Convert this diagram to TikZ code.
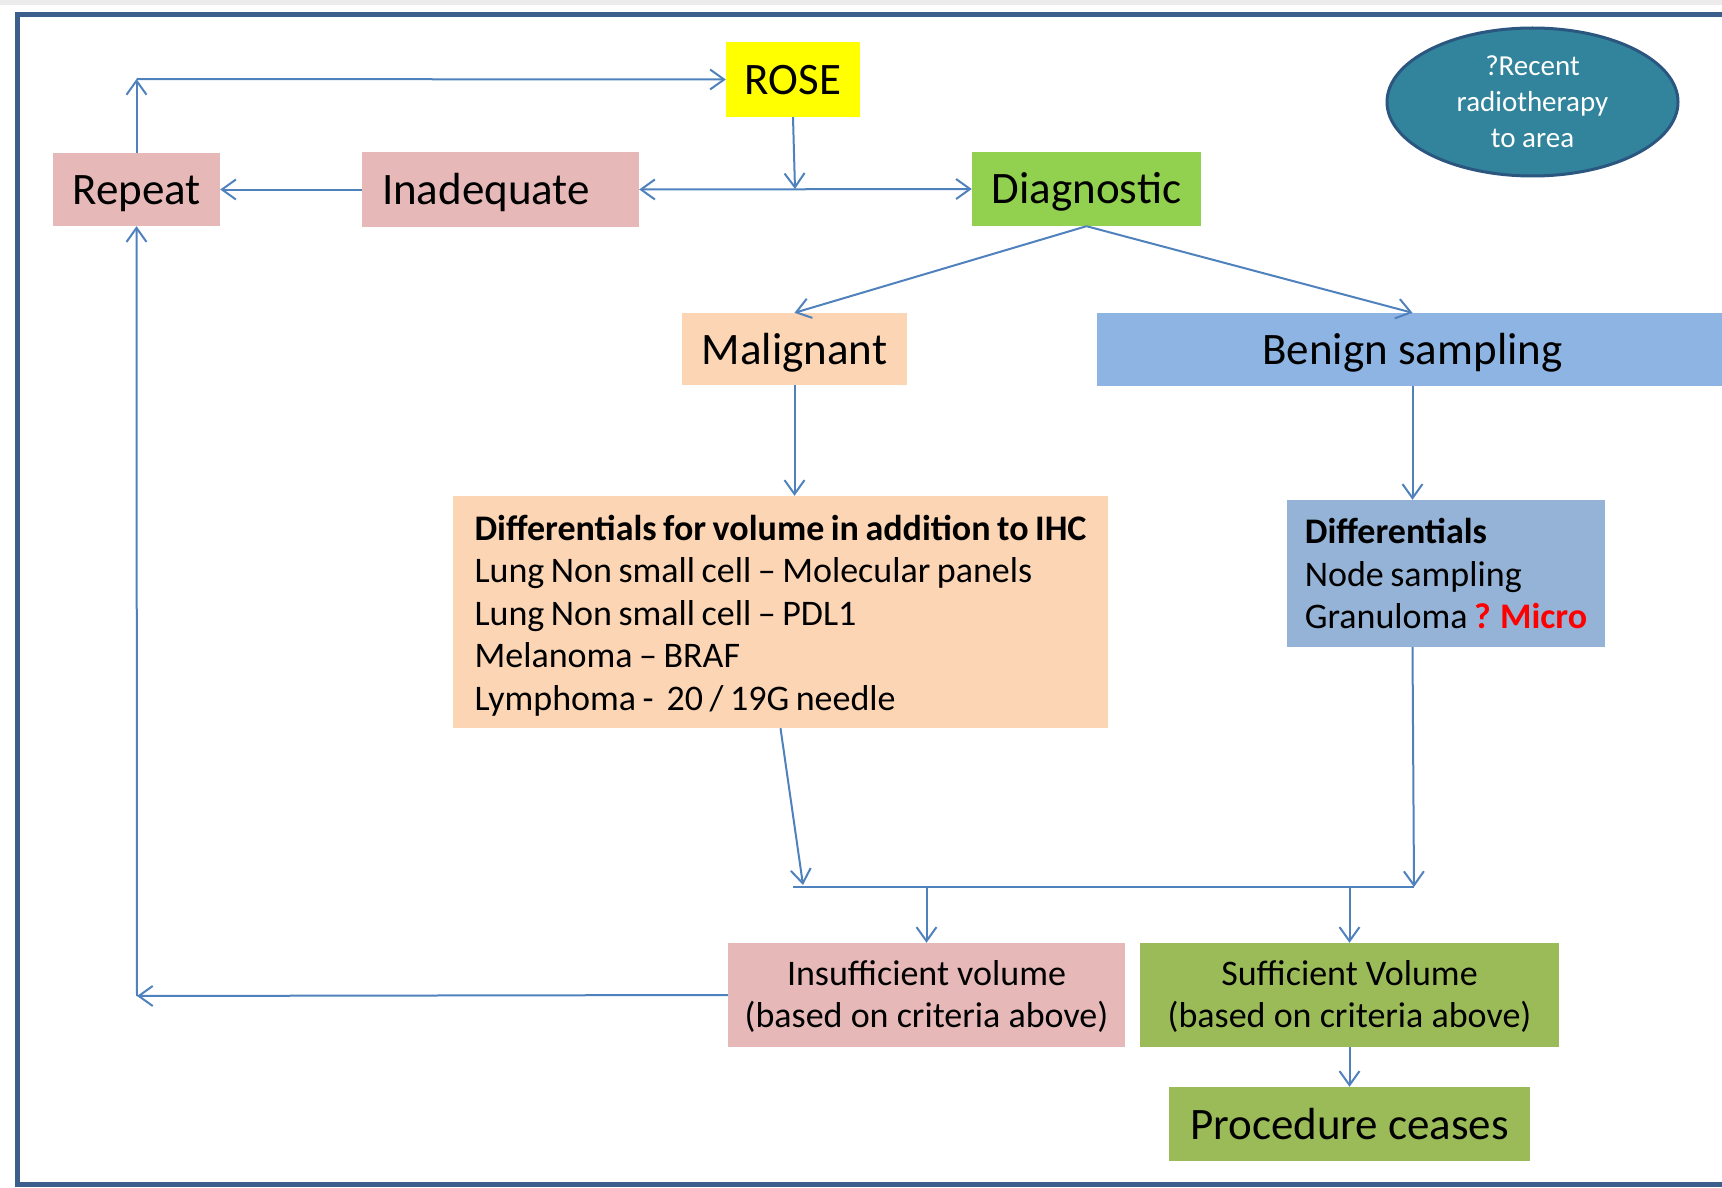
\documentclass[tikz,border=0pt]{standalone}
\usepackage{fontspec}
\setmainfont{Carlito}
\newfontfamily\tightfont{Carlito}[WordSpace=0.8]
\usetikzlibrary{arrows.meta,shapes.geometric}

\definecolor{linkblue}{HTML}{4F81BD}
\definecolor{frameblue}{HTML}{3B5E8C}
\definecolor{roseyellow}{HTML}{FFFF00}
\definecolor{pinkfill}{HTML}{E6B9B8}
\definecolor{diaggreen}{HTML}{92D050}
\definecolor{peach}{HTML}{FCD5B5}
\definecolor{benignblue}{HTML}{8EB4E3}
\definecolor{diffblue}{HTML}{95B3D7}
\definecolor{okgreen}{HTML}{9BBB59}
\definecolor{tealfill}{HTML}{31849B}
\definecolor{tealedge}{HTML}{2B5680}

\begin{document}
\begin{tikzpicture}[x=1pt,y=-1pt,
    box/.style={rectangle,inner sep=0pt,text height=30pt,text depth=0pt,font=\fontsize{45}{54}\selectfont},
    small/.style={rectangle,inner sep=0pt,align=left,font=\tightfont\fontsize{36}{42.5}\selectfont},
    twoline/.style={rectangle,inner sep=0pt,align=center,text depth=2pt,font=\fontsize{36}{42}\selectfont},
    >={Straight Barb[length=14pt,width=20pt]},
    link/.style={draw=linkblue,line width=2pt}]
	\useasboundingbox (0,0) rectangle (1722,1188);
	\fill[gray!15] (0,0) rectangle (1722,5);
	\draw[frameblue,line width=4.5pt] (1760,14.5) -- (17.5,14.5) -- (17.5,1184.5) -- (1760,1184.5);

	\node[box,fill=roseyellow,minimum width=134pt,minimum height=75pt] (rose) at (793,79.5) {ROSE};
	\node[box,fill=pinkfill,minimum width=167pt,minimum height=73pt] (repeat) at (136.5,189.5) {Repeat};
	\node[box,fill=pinkfill,minimum width=277pt,minimum height=75pt,text width=237pt,align=left] (inadequate) at (500.5,189.5) {Inadequate};
	\node[box,fill=diaggreen,minimum width=229pt,minimum height=74pt] (diagnostic) at (1086.5,189) {Diagnostic};
	\node[ellipse,fill=tealfill,draw=tealedge,line width=3pt,minimum width=291pt,minimum height=148pt,inner sep=0pt,
	      text=white,align=center,font=\fontsize{29}{36}\selectfont] (radio) at (1532.5,102) {?Recent\\radiotherapy\\to area};
	\node[box,fill=peach,minimum width=225pt,minimum height=72pt] (malignant) at (794.5,349) {Malignant};
	\node[box,fill=benignblue,minimum width=631pt,minimum height=73pt] (benign) at (1412.5,349.5) {Benign sampling};

	\node[small,fill=peach,minimum width=655pt,minimum height=232pt] (diffm) at (780.5,612)
	     {\rule{0pt}{32pt}\textbf{Differentials for volume in addition to IHC}\\
	      Lung Non small cell – Molecular panels\\
	      Lung Non small cell – PDL1\\
	      Melanoma – BRAF\\
	      Lymphoma -\ \ 20 / 19G needle};
	\node[small,fill=diffblue,minimum width=318pt,minimum height=147pt] (diffb) at (1446,573.5)
	     {\textbf{Differentials}\\
	      Node sampling\\
	      Granuloma \textcolor{red}{\textbf{? Micro}}};

	\node[twoline,fill=pinkfill,minimum width=397pt,minimum height=104pt] (insuf) at (926.5,995)
	     {Insufficient volume\\(based on criteria above)};
	\node[twoline,fill=okgreen,minimum width=419pt,minimum height=104pt] (suf) at (1349.5,995)
	     {Sufficient Volume\\(based on criteria above)};
	\node[box,fill=okgreen,minimum width=361pt,minimum height=74pt] (proc) at (1349.5,1124) {Procedure ceases};

	\coordinate (topturn) at (136.5,79);
	\coordinate (split) at (795,189);
	\coordinate (botturn) at (137,996);
	\coordinate (barl) at (793,887);
	\coordinate (barr) at (1414,887);
	\coordinate (mtip) at (803,885);

	\draw[link,->] (repeat.north) -- (topturn);
	\draw[link,->] (topturn) -- (rose.west);
	\draw[link,->] (rose.south) -- (split);
	\draw[link,->] (inadequate.west) -- (repeat.east);
	\draw[link,<->] (inadequate.east) -- (diagnostic.west);
	\draw[link,->] (diagnostic.south) -- (malignant.north);
	\draw[link,->] (diagnostic.south) -- (benign.north);
	\draw[link,->] (malignant.south) -- (malignant.south |- diffm.north);
	\draw[link,->] (benign.south) -- (benign.south |- diffb.north);
	\draw[link,->] (diffm.south) -- (mtip);
	\draw[link,->] (benign.south |- diffb.south) -- (barr);
	\draw[link] (barl) -- (barr);
	\draw[link,->] (insuf.north |- barl) -- (insuf.north);
	\draw[link,->] (suf.north |- barl) -- (suf.north);
	\draw[link,->] (suf.south) -- (proc.north);
	\draw[link,->] (insuf.west) -- (botturn);
	\draw[link,->] (botturn) -- (repeat.south);
\end{tikzpicture}
\end{document}
